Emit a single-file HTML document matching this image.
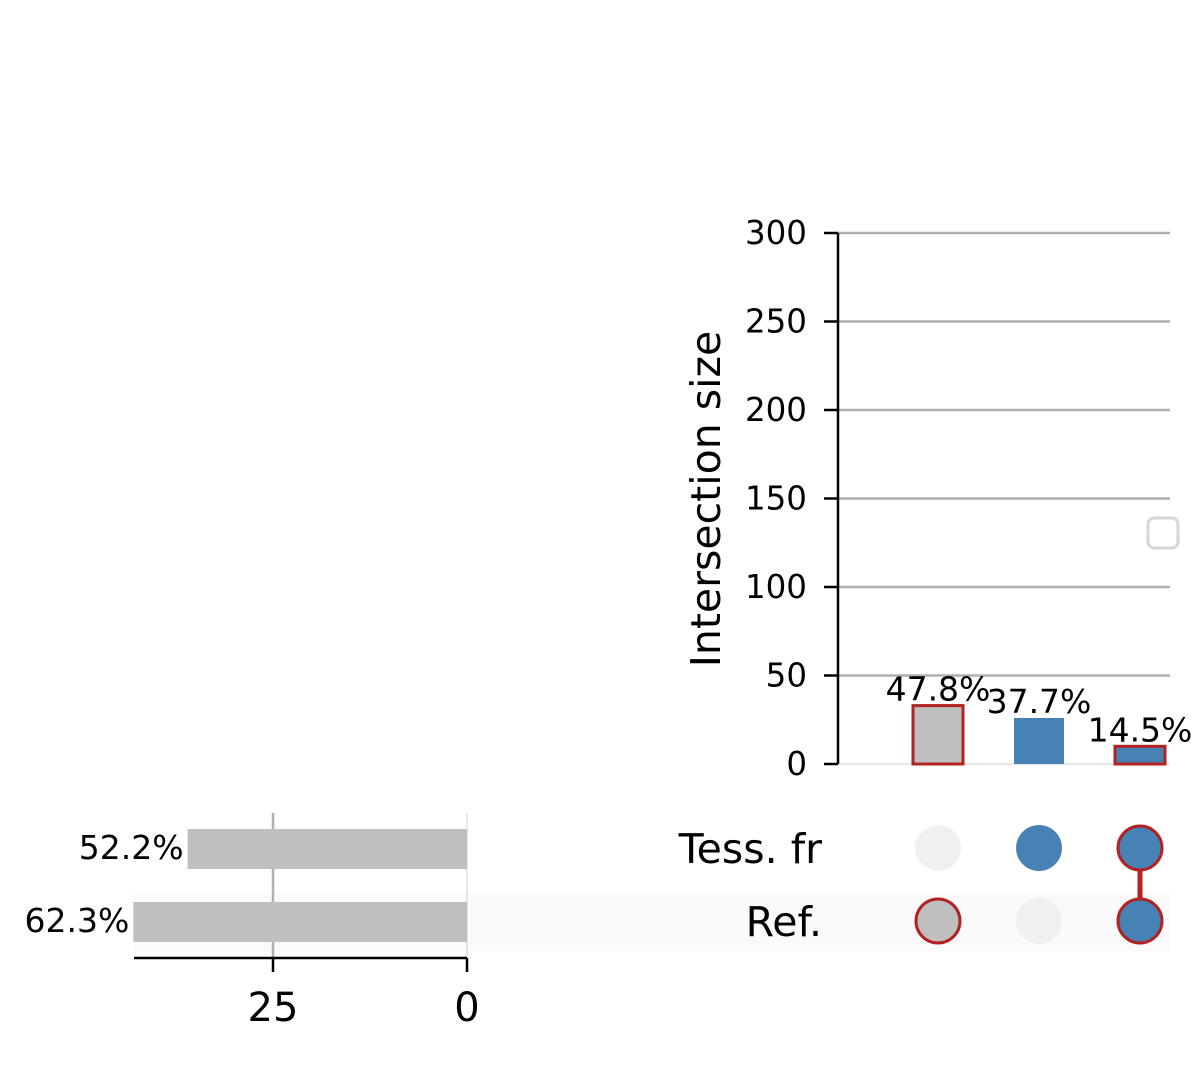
<!DOCTYPE html>
<html><head><meta charset="utf-8"><style>
html,body{margin:0;padding:0;background:#fff;}
svg{display:block;font-family:"DejaVu Sans","Liberation Sans",sans-serif;}
</style></head><body>
<svg id="chart" width="1200" height="1066" viewBox="0 0 1200 1066" xmlns="http://www.w3.org/2000/svg">
<g id="g"></g>
</svg>
<script>
const setNames = ["Tess. fr", "Ref."];
const setSizes = [36, 43];
const setPctLabels = ["52.2%", "62.3%"];
const interSizes = [33, 26, 10];
const interPctLabels = ["47.8%", "37.7%", "14.5%"];
const interMembership = [[false, true], [true, false], [true, true]];
const interHighlight = [true, false, true];
const interFillGrey = [true, false, false];
const yTicks = [0, 50, 100, 150, 200, 250, 300];
const xTicks = [25, 0];

const NS = "http://www.w3.org/2000/svg";
const g = document.getElementById("g");
function el(tag, attrs, text) {
  const e = document.createElementNS(NS, tag);
  for (const k in attrs) e.setAttribute(k, attrs[k]);
  if (text !== undefined) e.textContent = text;
  g.appendChild(e);
  return e;
}
const y = v => 764 - v * (531 / 300);
const colX = i => 938 + i * 101;
const rowY = j => 848 + j * 73;
const sx = v => 467 - v * (194 / 25);
const BLUE = "#4682b4", GREY = "#bfbfbf", RED = "#b22222", INACT = "#f0f0f0";

let e = el("rect", {x: 134, y: 893, width: 1036, height: 58, fill: "#fafafa"});



yTicks.forEach(t => {
  if (t === 0) return;
  const l = el("line", {x1: 838, x2: 1170, y1: y(t), y2: y(t), stroke: "#b0b0b0", "stroke-width": 2.5});
  
  
});
e = el("line", {x1: 838, x2: 1170, y1: y(0), y2: y(0), stroke: "#d0d0d0", "stroke-width": 1});



e = el("line", {x1: 838, x2: 838, y1: y(300), y2: y(0), stroke: "#000", "stroke-width": 2.5});


yTicks.forEach(t => {
  const tk = el("line", {x1: 824, x2: 838, y1: y(t), y2: y(t), stroke: "#000", "stroke-width": 2.5});
  
  
  const tl = el("text", {x: 807, y: y(t) + 11, "text-anchor": "end", "font-size": "32.5px", fill: "#000"}, t);
  
  
});
e = el("text", {x: 0, y: 0, "text-anchor": "middle", "font-size": "41px", fill: "#000", transform: "translate(720,499) rotate(-90)"}, "Intersection size");



interSizes.forEach((v, i) => {
  const hl = interHighlight[i];
  const b = el("rect", {x: colX(i) - 25, y: y(v), width: 50, height: y(0) - y(v),
    fill: interFillGrey[i] ? GREY : BLUE, stroke: hl ? RED : "none", "stroke-width": hl ? 3 : 0});
  
  
  const t = el("text", {x: colX(i), y: y(v) - 5, "text-anchor": "middle", "font-size": "33px", fill: "#000"}, interPctLabels[i]);
  
  
});

e = el("rect", {x: 1148, y: 518, width: 30, height: 30, rx: 6, fill: "#fff", stroke: "#d6d6d6", "stroke-width": 3});



setNames.forEach((n, j) => {
  const t = el("text", {x: 822, y: rowY(j) + 15, "text-anchor": "end", "font-size": "41px", fill: "#000"}, n);
  
  
});

interMembership.forEach((mem, i) => {
  const act = mem.map((m, j) => m ? j : -1).filter(j => j >= 0);
  if (act.length > 1) {
    const ln = el("line", {x1: colX(i), x2: colX(i), y1: rowY(Math.min(...act)), y2: rowY(Math.max(...act)), stroke: interHighlight[i] ? RED : BLUE, "stroke-width": 5});
    
    
  }
  mem.forEach((m, j) => {
    const hl = m && interHighlight[i];
    const c = el("circle", {cx: colX(i), cy: rowY(j), r: hl ? 22 : 23,
      fill: m ? (interFillGrey[i] ? GREY : BLUE) : INACT,
      stroke: hl ? RED : "none", "stroke-width": hl ? 3 : 0});
    
    
  });
});

[25, 0].forEach(t => {
  const l = el("line", {x1: sx(t), x2: sx(t), y1: 813, y2: 958, stroke: t === 0 ? "#d0d0d0" : "#b0b0b0", "stroke-width": t === 0 ? 1 : 2.5});
  
  
});
setSizes.forEach((v, j) => {
  const b = el("rect", {x: sx(v), y: rowY(j) - 19, width: sx(0) - sx(v), height: 40, fill: GREY});
  
  
  const t = el("text", {x: sx(v) - 4, y: rowY(j) + 11, "text-anchor": "end", "font-size": "33px", fill: "#000"}, setPctLabels[j]);
  
  
});
e = el("line", {x1: 134, x2: 467, y1: 958, y2: 958, stroke: "#000", "stroke-width": 2.5});


xTicks.forEach(t => {
  const tk = el("line", {x1: sx(t), x2: sx(t), y1: 958, y2: 972, stroke: "#000", "stroke-width": 2.5});
  
  
  const tl = el("text", {x: sx(t), y: 1021, "text-anchor": "middle", "font-size": "40px", fill: "#000"}, t);
  
  
});
</script>
</body></html>
